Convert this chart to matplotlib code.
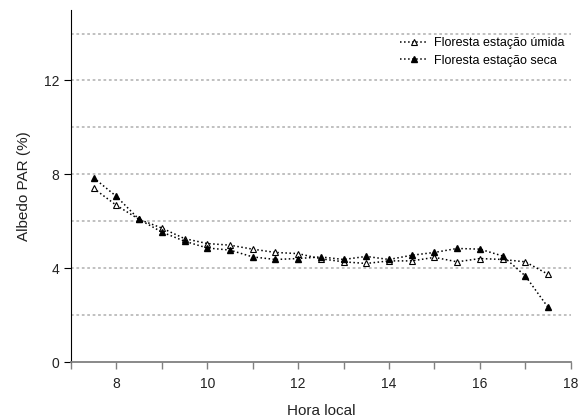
import numpy as np
import matplotlib.pyplot as plt
from matplotlib.ticker import MultipleLocator

plt.rcParams['font.family'] = ['Liberation Sans', 'DejaVu Sans']

# Dados
hora = [7.5, 8, 8.5, 9, 9.5, 10, 10.5, 11, 11.5, 12, 12.5,
        13, 13.5, 14, 14.5, 15, 15.5, 16, 16.5, 17, 17.5]
umida = [7.40, 6.68, 6.08, 5.71, 5.26, 5.05, 4.98, 4.81, 4.67, 4.62, 4.40,
         4.27, 4.20, 4.31, 4.31, 4.46, 4.27, 4.41, 4.37, 4.27, 3.74]
seca = [7.85, 7.06, 6.08, 5.54, 5.15, 4.86, 4.77, 4.48, 4.37, 4.41, 4.48,
        4.37, 4.50, 4.37, 4.55, 4.67, 4.84, 4.81, 4.52, 3.67, 2.33]

fig = plt.figure(figsize=(5.86, 4.19), dpi=100)
ax = fig.add_axes([0.121, 0.136, 0.853, 0.840])

ax.plot(hora, umida, linestyle=':', color='black', linewidth=1.1,
        marker='^', markersize=5, markerfacecolor='white',
        markeredgecolor='black', markeredgewidth=0.8,
        label='Floresta estação úmida')
ax.plot(hora, seca, linestyle=':', color='black', linewidth=1.1,
        marker='^', markersize=5, markerfacecolor='black',
        markeredgecolor='black', label='Floresta estação seca')

ax.set_xlim(7, 18)
ax.set_ylim(0, 15)
ax.xaxis.set_major_locator(MultipleLocator(2))
ax.xaxis.set_minor_locator(MultipleLocator(1))
ax.yaxis.set_major_locator(MultipleLocator(4))
ax.yaxis.set_minor_locator(MultipleLocator(2))

for y in range(2, 15, 2):
    ax.axhline(y, color='#bbbbbb', linestyle=(0, (1.5, 1.5)), linewidth=1.3, zorder=0)

for s in ['top', 'right']:
    ax.spines[s].set_visible(False)
ax.spines['bottom'].set_color('#808080')
ax.spines['bottom'].set_linewidth(1.3)
ax.spines['left'].set_color('black')

ax.tick_params(axis='x', which='both', direction='out', color='#808080',
               length=5, width=1, labelsize=10, labelcolor='#222222', pad=6)
ax.tick_params(axis='y', which='major', direction='out', length=5,
               labelsize=10, labelcolor='#222222')
ax.tick_params(axis='y', which='minor', length=0)

ax.set_xlabel('Hora local', fontsize=11, color='#222222', labelpad=9)
ax.set_ylabel('Albedo PAR (%)', fontsize=11, color='#222222', labelpad=9)

leg = ax.legend(loc='upper right', bbox_to_anchor=(1.01, 0.955), frameon=False,
                fontsize=9, handlelength=2.2, handletextpad=0.5,
                labelspacing=0.45, markerscale=0.8)

plt.savefig('out.png', dpi=100)
